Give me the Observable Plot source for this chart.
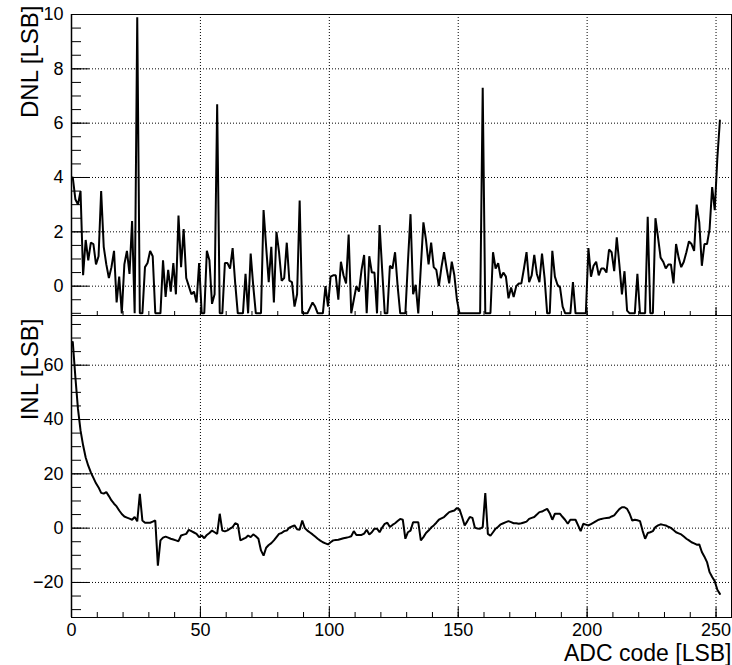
<!DOCTYPE html>
<html>
<head>
<meta charset="utf-8">
<script src="https://cdn.jsdelivr.net/npm/d3@7"></script>
<script src="https://cdn.jsdelivr.net/npm/@observablehq/plot@0.6"></script>
<style>
  html, body { margin: 0; padding: 0; background: #fff; }
  #chart { position: relative; width: 732px; height: 665px; }
  svg { overflow: visible; }
</style>
</head>
<body>
<div id="chart"></div>
<script>
// DNL per ADC code (0..251), values below the frame are drawn at -1
const dnl = [
  4.0, 3.2, 3.0, 3.5, 0.4, 1.7, 0.95, 1.6, 1.55, 0.8,
  1.1, 3.5, 1.45, 0.8, 0.3, 0.7, 1.3, -0.6, 0.35, -1,
  0.8, 1.3, 0.45, 2.4, -1, 9.9, -1, -1, 0.7, 0.85,
  1.3, 1.1, -1, -1, -1, 0.95, -0.4, 0.6, -0.2, 0.85,
  -0.3, 2.6, 0.7, 2.1, 0.3, 0, -0.3, -0.2, -0.6, 0.85,
  -1, -1, 1.3, 0.95, -0.65, -0.3, 6.7, -1, -1, 0.85,
  0.85, 0.65, 1.4, 0.1, -1, -1, -1, 0.45, -1, 1.2,
  0, -1, -1, -1, 2.8, 1.45, 0.15, 1.45, -0.6, 2.0,
  1.25, 0.2, 0.3, 1.6, 0.2, 0.15, -0.75, -0.3, 3.15, -1,
  -1, -1, -0.8, -0.6, -0.75, -1, -1, -1, 0, -0.75,
  0.35, 0.4, 0.4, -0.5, 0.9, 0.4, 0.1, 1.9, -1, -0.5,
  0, -0.2, 0.6, 1.15, -1, 1.1, 0.5, 0.5, -1, 2.25,
  0.6, -1, -1, 0.75, 0.65, 1.25, 0, -1, -1, -1,
  0.9, 2.65, -0.3, 0.05, -1, 0.7, 2.35, 1.7, 0.8, 1.6,
  0.7, 0.6, 0, 0.7, 1.25, 0.65, 0.1, 0.9, 0.4, -0.5,
  -1, -1, -1, -1, -1, -1, -1, -1, -1, 7.3,
  -1, -1, -1, 1.25, 0.65, 0.85, 0.3, 0.5, 0.35, -0.45,
  -0.05, -0.4, 0, 0.1, 0.1, 0.65, 1.25, 0.15, 0.4, 1.15,
  0.45, 0.15, 1.2, 0.3, -1, -1, 1.3, 0.35, 0.05, -0.05,
  -0.75, -1, -1, -1, 0.15, -1, -1, -1, -1, -1,
  1.4, 0.35, 0.75, 0.9, 0.4, 0.65, 0.65, 0.5, 1.35, 1.25,
  0.55, 1.8, 0.8, -0.3, 0.55, -0.9, -1, -1, -1, 0.45,
  -1, -1, -1, 2.55, -1, -1, 2.5, 1.8, 1.05, 0.9,
  0.65, 0.8, 0.8, 0.1, 1.55, 1.05, 0.7, 0.9, 1.25, 1.65,
  1.55, 1.3, 3.0, 2.35, 0.75, 1.55, 1.55, 2.1, 3.65, 2.8,
  4.7, 6.1
];

// INL per ADC code (0..251)
const inl = [
  68.5, 55.6, 44, 36, 30.5, 26, 23, 20.5, 18.5, 16.5,
  15, 13, 12.7, 13.3, 11.8, 10.2, 9, 8, 6.5, 5.2,
  4.3, 3.9, 3.5, 3.1, 4.1, 2.5, 12.6, 2.8, 2.0, 2.0,
  2.0, 2.4, 2.8, -13.8, -4.5, -3.5, -3.1, -3.5, -3.9, -4.2,
  -4.5, -4.8, -2.7, -2.4, -2.1, -0.6, -1.1, -1.6, -2.1, -3.3,
  -2.7, -3.7, -2.5, -1.8, -0.9, -1.5, -2.1, 5.3, -0.9, -1.2,
  -0.8, -0.2, 0.4, 1.8, 1.4, -4.5, -4.0, -3.6, -2.7, -3.3,
  -2.3, -3.0, -3.9, -8.2, -10.1, -7.2, -6.2, -5.5, -4.5, -3.3,
  -2.1, -1.8, -1.1, -0.9, 0.2, 0.6, 1.0, -0.4, -0.6, 2.8,
  0, -0.9, -1.6, -2.3, -3.1, -3.9, -4.6, -5.2, -5.6, -6.0,
  -5.2, -4.5, -4.4, -4.3, -4.0, -3.7, -3.5, -3.3, -3.0, -1.1,
  -2.5, -2.5, -2.5, -2.0, -0.6, -2.3, -1.5, -0.2, -0.2, -1.5,
  0.2, 1.6, 2.0, 0.4, 1.2, 1.8, 2.6, 3.4, 3.1, -3.9,
  -1.5, -0.9, 2.2, 2.2, 2.2, -4.5, -3.3, -1.8, -0.9, 0.2,
  1.0, 2.0, 3.1, 3.6, 4.1, 5.0, 5.9, 6.2, 6.5, 7.4,
  6.9, 4.1, 1.0, 2.5, 4.1, 3.8, 0.1, -0.1, -0.2, 0.4,
  12.9, -2.1, -2.8, -1.5, -0.2, 0.5, 1.4, 1.8, 2.2, 2.6,
  2.2, 1.8, 1.8, 1.6, 1.8, 2.1, 2.4, 3.4, 3.8, 4.1,
  5.0, 5.9, 6.1, 6.6, 7.1, 5.5, 3.1, 5.3, 5.3, 5.3,
  4.1, 3.0, 1.6, 3.1, 3.1, 3.1, 1.0, -1.1, 1.6, 1.3,
  1.0, 1.5, 2.0, 2.6, 3.1, 3.4, 3.6, 3.7, 3.8, 4.3,
  4.7, 5.9, 7.0, 7.7, 7.7, 7.1, 5.3, 2.8, 3.1, 2.9,
  2.6, -0.9, -3.9, -1.8, -1.5, -1.1, 0.4, 1.0, 1.4, 1.2,
  1.0, 0.5, 0.1, -0.7, -1.5, -1.9, -2.3, -3.1, -3.9, -4.5,
  -5.2, -5.6, -6.1, -6.0, -8.8, -10.5, -12.5, -16.2, -18, -19.5,
  -22.7, -24.2
];

const xMajorTicks = [0, 50, 100, 150, 200, 250];
const xMinorTicks = d3.range(0, 256, 10);
const dnlMajorTicks = [0, 2, 4, 6, 8, 10];
const dnlMinorTicks = d3.range(-1, 10.01, 0.5);
const inlMajorTicks = [-20, 0, 20, 40, 60];
const inlMinorTicks = d3.range(-30, 76, 5);

const xTitle = "ADC code [LSB]";
const dnlTitle = "DNL [LSB]";
const inlTitle = "INL [LSB]";

// ---- layout ----
const W = 732;
const ML = 71, MR = 1;
const plotW = W - ML - MR;
const FONT = "'Liberation Sans', Arial, Helvetica, sans-serif";
const fmt = d => (d < 0 ? "\u2212" + Math.abs(d) : String(d));
const grid = { stroke: "#000", strokeWidth: 1, strokeDasharray: "1,2" };

const dnlData = dnl.map((v, i) => ({ code: i + 0.5, v }));
const inlData = inl.map((v, i) => ({ code: i + 0.5, v }));

// top panel: DNL
const topH = 315, topMT = 14, topMB = 0;
const topPlotH = topH - topMT - topMB;
const topPlot = Plot.plot({
  width: W, height: topH,
  marginLeft: ML, marginRight: MR, marginTop: topMT, marginBottom: topMB,
  style: { fontFamily: FONT, background: "transparent", color: "#000", overflow: "visible" },
  x: { domain: [0, 256], axis: null },
  y: { domain: [-1.08, 10], axis: null },
  marks: [
    Plot.ruleX(xMajorTicks.filter(d => d > 0), grid),
    Plot.ruleY(dnlMajorTicks.filter(d => d < 10), grid),
    Plot.line(dnlData, { x: "code", y: "v", stroke: "#000", strokeWidth: 2, strokeLinejoin: "miter" }),
    Plot.tickY(dnlMinorTicks, { y: d => d, stroke: "#000", insetRight: plotW - 10 }),
    Plot.tickY(dnlMajorTicks, { y: d => d, stroke: "#000", insetRight: plotW - 18 }),
    Plot.tickX(xMinorTicks, { x: d => d, stroke: "#000", insetTop: topPlotH - 4 }),
    Plot.tickX(xMajorTicks, { x: d => d, stroke: "#000", insetTop: topPlotH - 8 }),
    Plot.frame({ stroke: "#000", strokeWidth: 1 }),
    Plot.ruleX([0], { stroke: "#000", strokeWidth: 1.5 }),
    Plot.text(dnlMajorTicks, { y: d => d, text: fmt, frameAnchor: "left", dx: -8, textAnchor: "end", fontSize: 18, fill: "#000" }),
    Plot.text([dnlTitle], { frameAnchor: "top-left", rotate: -90, textAnchor: "end", dx: -51, dy: -9, fontSize: 24, fill: "#000" })
  ]
});

// bottom panel: INL
const botH = 350, botMT = 0, botMB = 48;
const botPlotH = botH - botMT - botMB;
const botPlot = Plot.plot({
  width: W, height: botH,
  marginLeft: ML, marginRight: MR, marginTop: botMT, marginBottom: botMB,
  style: { fontFamily: FONT, background: "transparent", color: "#000", overflow: "visible" },
  x: { domain: [0, 256], axis: null },
  y: { domain: [-32.9, 78.3], axis: null },
  marks: [
    Plot.ruleX(xMajorTicks.filter(d => d > 0), grid),
    Plot.ruleY(inlMajorTicks, grid),
    Plot.line(inlData, { x: "code", y: "v", stroke: "#000", strokeWidth: 2, strokeLinejoin: "miter" }),
    Plot.tickY(inlMinorTicks, { y: d => d, stroke: "#000", insetRight: plotW - 10 }),
    Plot.tickY(inlMajorTicks, { y: d => d, stroke: "#000", insetRight: plotW - 18 }),
    Plot.tickX(xMinorTicks, { x: d => d, stroke: "#000", insetTop: botPlotH - 5 }),
    Plot.tickX(xMajorTicks, { x: d => d, stroke: "#000", insetTop: botPlotH - 10 }),
    Plot.frame({ stroke: "#000", strokeWidth: 1 }),
    Plot.ruleX([0], { stroke: "#000", strokeWidth: 1.5 }),
    Plot.text(inlMajorTicks, { y: d => d, text: fmt, frameAnchor: "left", dx: -8, textAnchor: "end", fontSize: 18, fill: "#000" }),
    Plot.text(xMajorTicks, { x: d => d, text: fmt, frameAnchor: "bottom", dy: 6, lineAnchor: "top", fontSize: 18, fill: "#000" }),
    Plot.text([inlTitle], { frameAnchor: "top-left", rotate: -90, textAnchor: "end", dx: -51, dy: 3, fontSize: 24, fill: "#000" }),
    Plot.text([xTitle], { frameAnchor: "bottom-right", textAnchor: "end", lineAnchor: "bottom", dy: 43, fontSize: 23, fill: "#000" })
  ]
});

const chart = document.getElementById("chart");
topPlot.style.position = "absolute";
topPlot.style.top = "0px";
topPlot.style.left = "0px";
botPlot.style.position = "absolute";
botPlot.style.top = topH + "px";
botPlot.style.left = "0px";
chart.appendChild(topPlot);
chart.appendChild(botPlot);
</script>
</body>
</html>
